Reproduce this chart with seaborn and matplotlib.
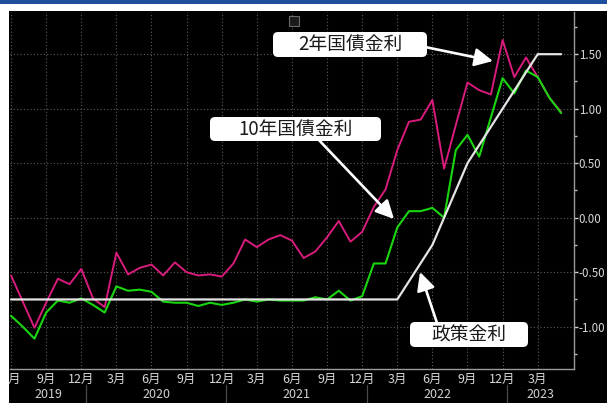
import numpy as np
import pandas as pd
import matplotlib
matplotlib.use("Agg")
import matplotlib.pyplot as plt
import seaborn as sns
from matplotlib.patches import FancyBboxPatch, FancyArrowPatch, Rectangle
from matplotlib.transforms import IdentityTransform, Bbox, TransformedBbox

# ---------------- data ----------------
start_month = "2019-06"
end_month = "2023-05"
jgb2 = [-0.53, -0.77, -1.01, -0.78, -0.56, -0.61, -0.47, -0.74, -0.82, -0.32,
        -0.52, -0.46, -0.43, -0.53, -0.41, -0.50, -0.53, -0.52, -0.54, -0.42,
        -0.20, -0.27, -0.20, -0.16, -0.21, -0.37, -0.31, -0.18, -0.03, -0.22,
        -0.13, 0.10, 0.26, 0.62, 0.88, 0.90, 1.08, 0.45, 0.85, 1.24,
        1.17, 1.13, 1.63, 1.29, 1.47, 1.29, 1.10, 0.97]
jgb10 = [-0.90, -1.00, -1.11, -0.87, -0.76, -0.78, -0.74, -0.80, -0.87, -0.63,
         -0.67, -0.66, -0.68, -0.77, -0.78, -0.78, -0.81, -0.78, -0.80, -0.78,
         -0.75, -0.77, -0.75, -0.76, -0.76, -0.76, -0.73, -0.75, -0.67, -0.76,
         -0.72, -0.42, -0.42, -0.09, 0.06, 0.06, 0.09, 0.00, 0.62, 0.76,
         0.56, 0.92, 1.28, 1.14, 1.35, 1.29, 1.10, 0.96]
policy_months = ["2019-06", "2019-09", "2019-12", "2020-03", "2020-06", "2020-09",
                 "2020-12", "2021-03", "2021-06", "2021-09", "2021-12", "2022-03",
                 "2022-06", "2022-09", "2022-12", "2023-03", "2023-05"]
policy = [-0.75, -0.75, -0.75, -0.75, -0.75, -0.75, -0.75, -0.75, -0.75, -0.75,
          -0.75, -0.75, -0.25, 0.50, 1.00, 1.50, 1.50]
month_ticks = ["6月", "9月", "12月", "3月", "6月", "9月", "12月", "3月", "6月",
               "9月", "12月", "3月", "6月", "9月", "12月", "3月"]
year_labels = ["2019", "2020", "2021", "2022", "2023"]
y_ticks = [-1.0, -0.5, 0.0, 0.5, 1.0, 1.5]
label_2y = "2年国債金利"
label_10y = "10年国債金利"
label_policy = "政策金利"

# ---------------- prep ----------------
p0 = pd.Period(start_month, freq="M")
months = pd.period_range(start_month, end_month, freq="M")
idx = np.array([(m - p0).n for m in months])
pidx = np.array([(pd.Period(m, freq="M") - p0).n for m in policy_months])
df = pd.DataFrame({"i": idx, "y2": jgb2, "y10": jgb10})
dfp = pd.DataFrame({"i": pidx, "p": policy})

sns.set_theme(style="dark")
NUMFONT = ["Liberation Sans Narrow", "Noto Sans CJK JP", "DejaVu Sans"]
plt.rcParams["font.family"] = NUMFONT
plt.rcParams["axes.unicode_minus"] = False

W, H = 607, 403
fig = plt.figure(figsize=(W / 100, H / 100), dpi=100, facecolor="white")
fig.add_artist(Rectangle((9 / W, 0), 1 - 9 / W, (H - 11) / H, transform=fig.transFigure,
                         facecolor="black", edgecolor="none", zorder=-10))
fig.add_artist(Rectangle((0, (H - 4) / H), 1, 4 / H, transform=fig.transFigure,
                         facecolor="#1d4f9e", edgecolor="none", zorder=-10))

ax = fig.add_axes([10 / W, 34 / H, 564 / W, 357 / H])
ax.set_facecolor("black")

MAG = "#d81b7c"
GRN = "#19d60f"
WHT = "#e4e4e4"
sns.lineplot(data=df, x="i", y="y2", ax=ax, color=MAG, lw=1.4)
sns.lineplot(data=df, x="i", y="y10", ax=ax, color=GRN, lw=1.5)
sns.lineplot(data=dfp, x="i", y="p", ax=ax, color=WHT, lw=1.6)

ax.set_xlim(-0.09, 48.1)
ax.set_ylim(-1.388, 1.887)
ax.set_xlabel("")
ax.set_ylabel("")

ax.yaxis.tick_right()
ax.set_yticks(y_ticks)
ax.set_yticklabels([f"{v:.2f}" for v in y_ticks])
ax.set_yticks(np.arange(-1.25, 1.9, 0.25), minor=True)
ax.set_xticks(idx[::3])
ax.set_xticklabels(month_ticks)
ax.set_xticks(idx, minor=True)

ax.grid(True, which="major", color="#5c5c5c", linestyle=(0, (1, 2)), lw=0.8)
ax.grid(False, which="minor")
for s in ["left", "top"]:
    ax.spines[s].set_visible(False)
for s in ["right", "bottom"]:
    ax.spines[s].set_visible(True)
    ax.spines[s].set_color("#9a9a9a")
    ax.spines[s].set_linewidth(1.0)

ax.tick_params(axis="y", which="major", direction="out", length=3, width=1,
               colors="#cfcfcf", labelcolor="#d8d8d8", labelsize=8.3, pad=0.5,
               right=True, left=False, labelright=True, labelleft=False)
ax.tick_params(axis="y", which="minor", direction="out", length=2, width=1,
               colors="#bdbdbd", right=True, left=False)
ax.tick_params(axis="x", which="major", direction="in", length=3, width=1,
               colors="#cfcfcf", labelcolor="#d8d8d8", labelsize=9, pad=3)
ax.tick_params(axis="x", which="minor", direction="in", length=2, width=1,
               colors="#bdbdbd")

# clip the first month label at the left edge of the panel
clipbox = TransformedBbox(Bbox([[9 / W, 0], [1, 1]]), fig.transFigure)
for lbl in ax.get_xticklabels():
    lbl.set_clip_box(clipbox)
    lbl.set_clip_on(True)

# year separators and labels
seps = [6.4, 18.4, 30.4, 42.4]
bounds = [ax.get_xlim()[0]] + seps + [ax.get_xlim()[1]]
trans = ax.get_xaxis_transform()
for s in seps:
    ax.plot([s, s], [-0.045, -0.1], transform=trans, clip_on=False,
            color="#4a4a4a", lw=0.9)
for k, yl in enumerate(year_labels):
    cx = (bounds[k] + bounds[k + 1]) / 2
    ax.text(cx, -0.072, yl, transform=trans, ha="center", va="center",
            color="#d0d0d0", fontsize=9, family=NUMFONT)

# small toolbar icon
fig.add_artist(Rectangle((289, H - 26), 10, 10, transform=IdentityTransform(),
                         facecolor="#1a1a1a", edgecolor="#6a6a6a", lw=0.8, zorder=3))

# annotation boxes (figure pixels, origin top-left converted)
def box(x0, y0, x1, y1, text):
    fig.add_artist(FancyBboxPatch((x0, H - y1), x1 - x0, y1 - y0,
                                  boxstyle="round,pad=0,rounding_size=5",
                                  transform=IdentityTransform(),
                                  facecolor="white", edgecolor="none", zorder=6))
    fig.text((x0 + x1) / 2 / W, (H - (y0 + y1) / 2) / H, text, ha="center",
             va="center", fontsize=13.5, color="#1a1a1a",
             family=["Noto Sans CJK JP", "DejaVu Sans"], zorder=7)

def arrow(tail, tip):
    fig.add_artist(FancyArrowPatch((tail[0], H - tail[1]), (tip[0], H - tip[1]),
                                   transform=IdentityTransform(),
                                   arrowstyle="-|>,head_length=11,head_width=5.5",
                                   mutation_scale=1, shrinkA=0, shrinkB=0,
                                   color="white", lw=1.9, zorder=5))

arrow((425, 47), (493, 61))
arrow((317, 138), (394, 219))
arrow((437, 323), (420, 272))
box(273, 32, 427, 57, label_2y)
box(210, 117, 381, 141, label_10y)
box(410, 322, 528, 347, label_policy)

fig.savefig("out.png", dpi=100, facecolor=fig.get_facecolor())
